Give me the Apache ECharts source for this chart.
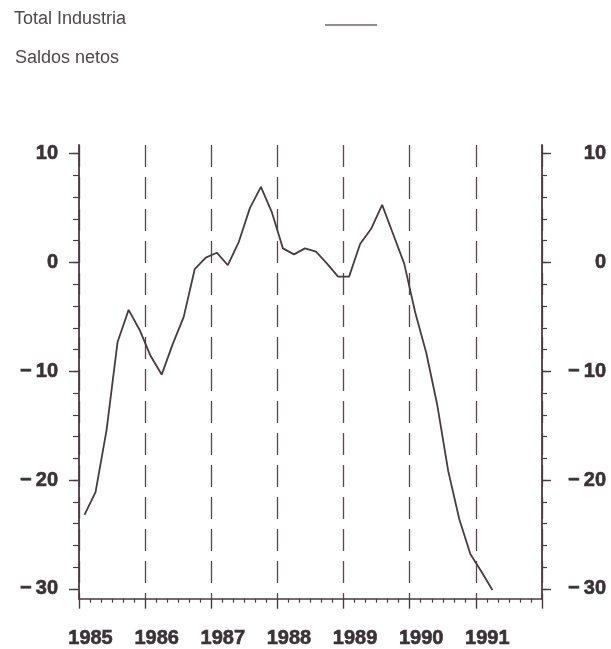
<!DOCTYPE html>
<html>
<head>
<meta charset="utf-8">
<script src="https://cdn.jsdelivr.net/npm/echarts@6/dist/echarts.min.js"></script>
<style>
html,body{margin:0;padding:0;background:#fff;}
#chart{width:611px;height:649px;}
</style>
</head>
<body>
<div id="chart"></div>
<script>
// ---- data ----
const years = [1985, 1986, 1987, 1988, 1989, 1990, 1991];
// bimonthly net balances (Jan-Feb, Mar-Apr, ..., Nov-Dec)
const v1985 = [-23.2, -21.1, -15.4, -7.3, -4.35, -6.2];
const v1986 = [-8.6, -10.3, -7.5, -5.0, -0.6, 0.45];
const v1987 = [0.9, -0.25, 1.9, 5.0, 6.95, 4.6];
const v1988 = [1.3, 0.75, 1.3, 1.0, -0.1, -1.3];
const v1989 = [-1.3, 1.7, 3.1, 5.3, 2.6, -0.1];
const v1990 = [-4.6, -8.3, -13.1, -19.2, -23.6, -26.8];
const v1991 = [-28.4, -30.1];
const yMajorTicks = [-30, -20, -10, 0, 10];
const yMinorTicks = [-30, -28, -26, -24, -22, -20, -18, -16, -14, -12, -10, -8, -6, -4, -2, 0, 2, 4, 6, 8, 10];
const titleText = 'Total Industria';
const subtitleText = 'Saldos netos';

// ---- build ----
const byYear = [v1985, v1986, v1987, v1988, v1989, v1990, v1991];
const seriesData = [];
byYear.forEach((arr, yi) => {
  arr.forEach((v, i) => {
    seriesData.push([years[yi] + (2 * i + 1) / 12, v]);
  });
});

const ink = '#4a3a43';
const labelInk = '#3b3237';
const fontFam = '"Liberation Sans", Arial, Helvetica, sans-serif';
const yFmt = v => (v < 0 ? '\u2212\u2009' + Math.abs(v) : String(v));
const yMin = -30.9, yMax = 10.8;
const boldLabel = { fontSize: 20, fontWeight: 'bold', fontFamily: fontFam, color: labelInk, textBorderColor: labelInk, textBorderWidth: 0.6 };

const chart = echarts.init(document.getElementById('chart'));
chart.setOption({
  animation: false,
  backgroundColor: '#ffffff',
  grid: { left: 79, right: 69, top: 145, bottom: 46.3, containLabel: false },
  graphic: [
    { type: 'text', left: 14, top: 10, style: { text: titleText, fontSize: 18, fontFamily: fontFam, fill: '#4e474c' } },
    { type: 'text', left: 15, top: 49, style: { text: subtitleText, fontSize: 18, fontFamily: fontFam, fill: '#4e474c' } },
    { type: 'line', shape: { x1: 325, y1: 25, x2: 377, y2: 25 }, style: { stroke: '#7a6068', lineWidth: 1.3 } }
  ],
  xAxis: {
    type: 'value', min: 1985, max: 1992, interval: 1,
    axisLine: { show: true, onZero: false, lineStyle: { color: ink, width: 1.6 } },
    axisTick: { show: true, length: 10, lineStyle: { color: ink, width: 1.4 } },
    minorTick: { show: true, splitNumber: 6, length: 4, lineStyle: { color: ink, width: 1.2 } },
    axisLabel: Object.assign({
      formatter: v => (v >= 1992 ? '' : String(v)),
      margin: 30, padding: [0, 0, 0, 23]
    }, boldLabel),
    splitLine: { show: true, lineStyle: { type: [22, 10], color: '#5e4450', width: 1.3 } },
    minorSplitLine: { show: false }
  },
  yAxis: [
    {
      type: 'value', position: 'left', min: yMin, max: yMax,
      axisLine: { show: true, lineStyle: { color: ink, width: 1.8 } },
      axisTick: { show: true, length: 10, customValues: yMajorTicks, lineStyle: { color: ink, width: 1.4 } },
      axisLabel: Object.assign({ show: true, customValues: yMajorTicks, formatter: yFmt, margin: 21 }, boldLabel),
      splitLine: { show: false }
    },
    {
      type: 'value', position: 'left', min: yMin, max: yMax,
      axisLine: { show: false },
      axisTick: { show: true, length: 6, customValues: yMinorTicks, lineStyle: { color: ink, width: 1.2 } },
      axisLabel: { show: false },
      splitLine: { show: false }
    },
    {
      type: 'value', position: 'right', min: yMin, max: yMax,
      axisLine: { show: true, lineStyle: { color: ink, width: 1.8 } },
      axisTick: { show: true, length: 9, customValues: yMajorTicks, lineStyle: { color: ink, width: 1.4 } },
      axisLabel: Object.assign({ show: true, customValues: yMajorTicks, formatter: yFmt, margin: 64, align: 'right' }, boldLabel),
      splitLine: { show: false }
    },
    {
      type: 'value', position: 'right', min: yMin, max: yMax,
      axisLine: { show: false },
      axisTick: { show: true, length: 5, customValues: yMinorTicks, lineStyle: { color: ink, width: 1.2 } },
      axisLabel: { show: false },
      splitLine: { show: false }
    }
  ],
  series: [{
    name: titleText,
    type: 'line',
    yAxisIndex: 0,
    data: seriesData,
    showSymbol: false,
    symbol: 'none',
    lineStyle: { color: ink, width: 1.8 },
    z: 5
  }]
});
</script>
</body>
</html>
